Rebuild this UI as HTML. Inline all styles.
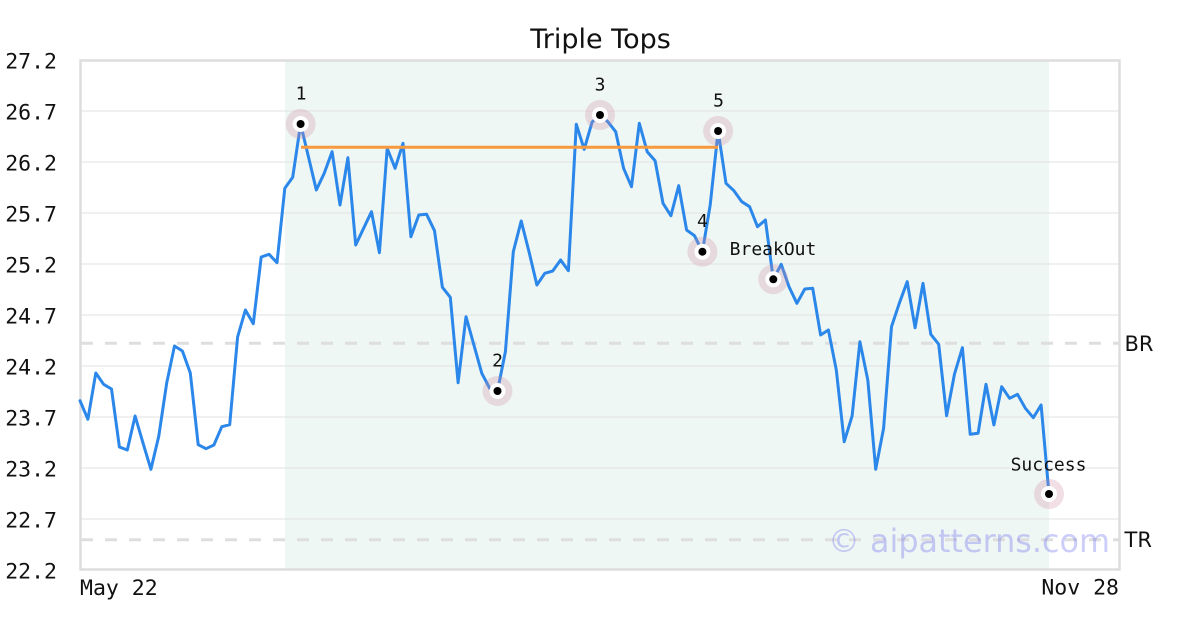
<!DOCTYPE html>
<html>
<head>
<meta charset="utf-8">
<style>
html,body{margin:0;padding:0;background:#fff;}
svg{display:block;}
</style>
</head>
<body>
<svg width="1200" height="630" viewBox="0 0 1200 630" xmlns="http://www.w3.org/2000/svg">
  <rect x="0" y="0" width="1200" height="630" fill="#ffffff"/>
  <!-- shaded pattern region -->
  <rect x="285" y="61" width="764" height="508" fill="#eff7f4"/>
  <!-- gridlines -->
  <g stroke="#e2e2e2" stroke-width="1">
    <line x1="81" y1="111" x2="1119" y2="111"/>
    <line x1="81" y1="162" x2="1119" y2="162"/>
    <line x1="81" y1="213" x2="1119" y2="213"/>
    <line x1="81" y1="264" x2="1119" y2="264"/>
    <line x1="81" y1="315" x2="1119" y2="315"/>
    <line x1="81" y1="366" x2="1119" y2="366"/>
    <line x1="81" y1="417" x2="1119" y2="417"/>
    <line x1="81" y1="468" x2="1119" y2="468"/>
    <line x1="81" y1="519" x2="1119" y2="519"/>
  </g>
  <!-- BR / TR dashed lines -->
  <g stroke="#dedede" stroke-width="3" stroke-dasharray="12 12">
    <line x1="81" y1="343.3" x2="1119" y2="343.3"/>
    <line x1="81" y1="539.7" x2="1119" y2="539.7"/>
  </g>
  <!-- watermark -->
  <text x="828" y="552" font-family="DejaVu Sans, sans-serif" font-size="32" fill="rgb(100,100,240)" fill-opacity="0.32" textLength="282" lengthAdjust="spacingAndGlyphs">© aipatterns.com</text>
  <!-- frame -->
  <rect x="80.5" y="60.5" width="1039" height="509" fill="none" stroke="#dddddd" stroke-width="2.5"/>
  <!-- price line -->
  <polyline fill="none" stroke="#2b87ea" stroke-width="3" stroke-linejoin="round" stroke-linecap="round" points="
80,400.7 87.9,419.3 95.8,373 103.6,384.3 111.5,389 119.4,447 127.3,450 135.1,416 143.0,443 150.9,469.3
158.8,436 166.7,383 174.5,346 182.4,351 190.3,373 198.2,444.7 206.0,448.7 213.9,445 221.8,426.7 229.7,424.7
237.6,337 245.4,310 253.3,323.7 261.2,257 269.1,254.3 277.0,262.7 284.8,188.3 292.7,177.3 300.6,124 308.5,157
316.3,190 324.2,173.3 332.1,151.7 340.0,205 347.9,157.7 355.7,245 363.6,228.3 371.5,211.7 379.4,252.7 387.2,148.3
395.1,168.3 403.0,143.3 410.9,236.7 418.8,215 426.6,214.3 434.5,230.7 442.4,287.3 450.3,297.3 458.1,382.7 466.0,316.7
473.9,345 481.8,373.3 489.7,388.3 497.5,391 505.4,351.7 513.3,251.7 521.2,221 529.0,251.7 536.9,285 544.8,273.3
552.7,271 560.6,260 568.4,270.7 576.3,124.3 584.2,149.3 592.1,122 600.0,115 607.8,121.7 615.7,131.7 623.6,168.3
631.5,186.7 639.3,123.3 647.2,151.7 655.1,160.7 663.0,203.3 670.9,215.7 678.7,185.7 686.6,230 694.5,235.7 702.4,251.7
710.2,205 718.1,131 726.0,183.3 733.9,190.7 741.8,201.7 749.6,206.7 757.5,226.7 765.4,220 773.3,279.3 781.2,264.3
789.0,286.7 796.9,303.3 804.8,289 812.7,288.3 820.6,335 828.4,330 836.3,370 844.2,441.7 852.1,416 859.9,341.7
867.8,380 875.7,469.3 883.6,428.3 891.5,326.7 899.3,303.3 907.2,281.7 915.1,327.7 923.0,283.3 930.8,334.3 938.7,344.3
946.6,415.7 954.5,374 962.4,347.7 970.2,434.3 978.1,433.3 986.0,384.3 993.9,425 1001.7,386.7 1009.6,398.3 1017.5,394.3
1025.4,408.3 1033.3,417.7 1041.1,405 1049.0,494"/>
  <!-- resistance line -->
  <line x1="301" y1="147.3" x2="718" y2="147.3" stroke="#f79a3e" stroke-width="3"/>
  <!-- markers -->
  <g fill="rgb(210,140,160)" fill-opacity="0.28">
    <circle cx="300.6" cy="124" r="15"/>
    <circle cx="497.5" cy="391" r="15"/>
    <circle cx="600" cy="115" r="15"/>
    <circle cx="702.4" cy="251.7" r="15"/>
    <circle cx="718.1" cy="131" r="15"/>
    <circle cx="773.3" cy="279.3" r="15"/>
    <circle cx="1049" cy="494" r="15"/>
  </g>
  <g fill="#ffffff">
    <circle cx="300.6" cy="124" r="8"/>
    <circle cx="497.5" cy="391" r="8"/>
    <circle cx="600" cy="115" r="8"/>
    <circle cx="702.4" cy="251.7" r="8"/>
    <circle cx="718.1" cy="131" r="8"/>
    <circle cx="773.3" cy="279.3" r="8"/>
    <circle cx="1049" cy="494" r="8"/>
  </g>
  <g fill="#000000">
    <circle cx="300.6" cy="124" r="4"/>
    <circle cx="497.5" cy="391" r="4"/>
    <circle cx="600" cy="115" r="4"/>
    <circle cx="702.4" cy="251.7" r="4"/>
    <circle cx="718.1" cy="131" r="4"/>
    <circle cx="773.3" cy="279.3" r="4"/>
    <circle cx="1049" cy="494" r="4"/>
  </g>
  <!-- marker labels -->
  <g font-family="DejaVu Sans Mono, Liberation Mono, monospace" font-size="18" fill="#111" text-anchor="middle">
    <text x="301" y="99.5">1</text>
    <text x="497.5" y="366.5">2</text>
    <text x="600" y="90.5">3</text>
    <text x="702.4" y="227">4</text>
    <text x="718.5" y="106.5">5</text>
    <text x="773" y="255">BreakOut</text>
    <text x="1048.5" y="470.5">Success</text>
  </g>
  <!-- title -->
  <text x="600.5" y="48" font-family="DejaVu Sans, sans-serif" font-size="27" fill="#111" text-anchor="middle">Triple Tops</text>
  <!-- y axis labels -->
  <g font-family="DejaVu Sans Mono, Liberation Mono, monospace" font-size="21.5" fill="#111" text-anchor="end">
    <text x="57" y="68.5">27.2</text>
    <text x="57" y="119.5">26.7</text>
    <text x="57" y="170.5">26.2</text>
    <text x="57" y="221.5">25.7</text>
    <text x="57" y="272.5">25.2</text>
    <text x="57" y="323.5">24.7</text>
    <text x="57" y="374.5">24.2</text>
    <text x="57" y="425.5">23.7</text>
    <text x="57" y="476.5">23.2</text>
    <text x="57" y="527.5">22.7</text>
    <text x="57" y="578.5">22.2</text>
  </g>
  <!-- x axis labels -->
  <g font-family="DejaVu Sans Mono, Liberation Mono, monospace" font-size="21.5" fill="#111">
    <text x="80" y="595">May 22</text>
    <text x="1119" y="594.5" text-anchor="end">Nov 28</text>
  </g>
  <!-- BR / TR labels -->
  <g font-family="DejaVu Sans, sans-serif" font-size="21" fill="#111">
    <text x="1124.5" y="351">BR</text>
    <text x="1124.5" y="547">TR</text>
  </g>
</svg>
</body>
</html>
